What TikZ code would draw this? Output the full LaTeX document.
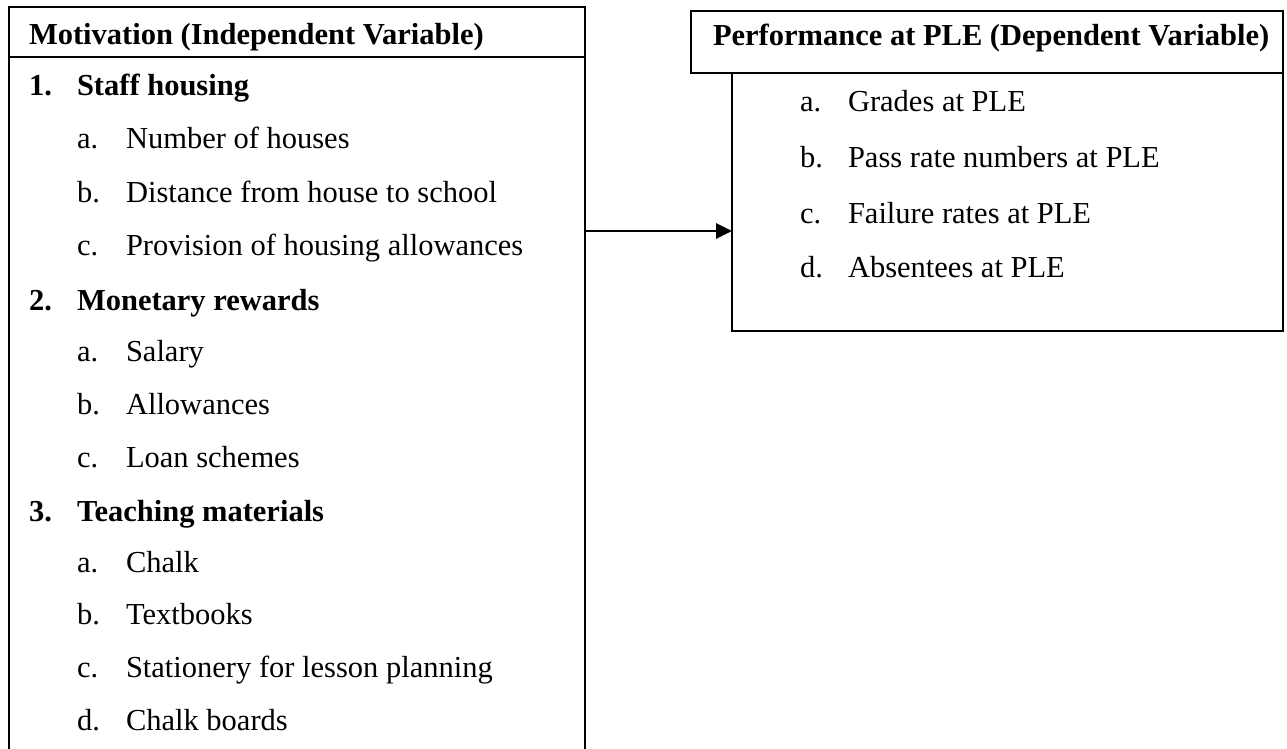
\documentclass[tikz,border=0pt]{standalone}
\usepackage{fontspec}
\setmainfont{Liberation Serif}
\usetikzlibrary{arrows.meta}
\begin{document}
\begin{tikzpicture}[x=1pt,y=-1pt,
  every node/.style={inner sep=0pt,outer sep=0pt},
  txt/.style={anchor=base west,font=\fontsize{30.5}{36}\selectfont},
  btxt/.style={anchor=base west,font=\fontsize{30.5}{36}\selectfont\bfseries},
  frame/.style={draw=black,line width=1.9pt},
  conn/.style={draw=black,line width=2.8pt,-{Triangle[length=16pt,width=15pt]}}]
\useasboundingbox (0,0) rectangle (1287,749);
% left box (open at bottom)
\node[minimum width=576pt,minimum height=742pt,anchor=north west] (L) at (9,7) {};
\draw[frame] (L.south west) -- (L.north west) -- (L.north east) -- (L.south east);
\coordinate (ldiv) at (9,57);
\draw[frame] (ldiv) -- (L.east |- ldiv);
% right boxes
\node[frame,minimum width=592pt,minimum height=62pt,anchor=north west] (RH) at (691,11) {};
\node[frame,minimum width=551pt,minimum height=258pt,anchor=north west] (R) at (732,73) {};
% arrow
\coordinate (arr) at (585,231);
\draw[conn] (L.east |- arr) -- (R.west |- arr);
% left texts
\node[btxt] (lh) at (29,45) {Motivation (Independent Variable)};
\node[btxt] (n1) at (29,96) {1.};
\node[btxt] (t1) at (77,96) {Staff housing};
\node[txt] (n1a) at (77,149) {a.};
\node[txt] (t1a) at (126,149) {Number of houses};
\node[txt] (n1b) at (77,202) {b.};
\node[txt] (t1b) at (126,202) {Distance from house to school};
\node[txt] (n1c) at (77,255) {c.};
\node[txt] (t1c) at (126,255) {Provision of housing allowances};
\node[btxt] (n2) at (29,310) {2.};
\node[btxt] (t2) at (77,310) {Monetary rewards};
\node[txt] (n2a) at (77,361) {a.};
\node[txt] (t2a) at (126,361) {Salary};
\node[txt] (n2b) at (77,414) {b.};
\node[txt] (t2b) at (126,414) {Allowances};
\node[txt] (n2c) at (77,467) {c.};
\node[txt] (t2c) at (126,467) {Loan schemes};
\node[btxt] (n3) at (29,521) {3.};
\node[btxt] (t3) at (77,521) {Teaching materials};
\node[txt] (n3a) at (77,572) {a.};
\node[txt] (t3a) at (126,572) {Chalk};
\node[txt] (n3b) at (77,624) {b.};
\node[txt] (t3b) at (126,624) {Textbooks};
\node[txt] (n3c) at (77,677) {c.};
\node[txt] (t3c) at (126,677) {Stationery for lesson planning};
\node[txt] (n3d) at (77,730) {d.};
\node[txt] (t3d) at (126,730) {Chalk boards};
% right texts
\node[btxt] (rh) at (713,46) {Performance at PLE (Dependent Variable)};
\node[txt] (ra) at (800,112) {a.};
\node[txt] (rta) at (848,112) {Grades at PLE};
\node[txt] (rb) at (800,167) {b.};
\node[txt] (rtb) at (848,167) {Pass rate numbers at PLE};
\node[txt] (rc) at (800,223) {c.};
\node[txt] (rtc) at (848,223) {Failure rates at PLE};
\node[txt] (rd) at (800,277) {d.};
\node[txt] (rtd) at (848,277) {Absentees at PLE};
\end{tikzpicture}
\end{document}
